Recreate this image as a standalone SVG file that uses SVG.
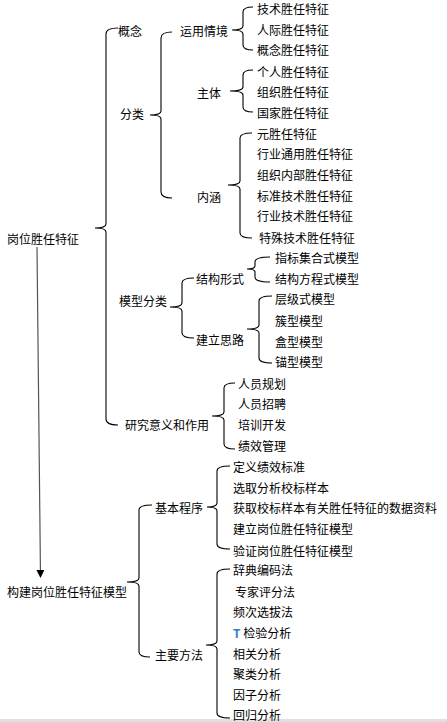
<svg xmlns="http://www.w3.org/2000/svg" width="447" height="722" viewBox="0 0 447 722">
<style>
text{font-family:"Noto Sans CJK SC","Noto Sans",sans-serif;font-size:12px;fill:#000;dominant-baseline:central}
.br{fill:none;stroke:#000;stroke-width:1.1}
</style>
<defs>
<marker id="ah" markerWidth="8" markerHeight="8" refX="7" refY="4" orient="auto" markerUnits="userSpaceOnUse">
<path d="M0,0 L8,4 L0,8 Z" fill="#000"/>
</marker>
</defs>
<rect width="447" height="722" fill="#fff"/>
<rect x="0" y="719" width="447" height="3" fill="#e0e0e0"/>
<g id="connectors">
<line x1="37" y1="247" x2="40.5" y2="577" stroke="#555" stroke-width="1.2" marker-end="url(#ah)"/>
<path class="br" d="M118,28 Q106,28 106,34 L106,224 Q106,228 95,228 Q106,228 106,232 L106,419 Q106,425 118,425"/>
<path class="br" d="M172,32 Q161,32 161,38 L161,111 Q161,115 150,115 Q161,115 161,119 L161,192 Q161,198 172,198"/>
<path class="br" d="M253,7 Q243,7 243,12 L243,26 Q243,30 232,30 Q243,30 243,34 L243,45 Q243,50 253,50"/>
<path class="br" d="M253,70 Q243,70 243,75 L243,87 Q243,91 230,91 Q243,91 243,95 L243,107 Q243,112 253,112"/>
<path class="br" d="M252,133 Q240,133 240,138 L240,181 Q240,185 228,185 Q240,185 240,189 L240,233 Q240,238 252,238"/>
<path class="br" d="M194,278 Q182,278 182,283 L182,303 Q182,307 170,307 Q182,307 182,311 L182,333 Q182,338 194,338"/>
<path class="br" d="M270,257 Q255,257 255,262 L255,266 Q255,269 247,269 Q255,269 255,272 L255,277 Q255,282 270,282"/>
<path class="br" d="M272,296 Q259,296 259,301 L259,325 Q259,329 247,329 Q259,329 259,333 L259,358 Q259,363 272,363"/>
<path class="br" d="M235,383 Q224,383 224,388 L224,412 Q224,416 212,416 Q224,416 224,420 L224,444 Q224,449 235,449"/>
<path class="br" d="M152,505 Q139,505 139,510 L139,578 Q139,582 127,582 Q139,582 139,586 L139,652 Q139,657 150,657"/>
<path class="br" d="M230,466 Q217,466 217,471 L217,503 Q217,507 207,507 Q217,507 217,511 L217,544 Q217,549 230,549"/>
<path class="br" d="M230,569 Q217,569 217,574 L217,641 Q217,645 206,645 Q217,645 217,649 L217,713 Q217,718 230,718"/>
</g>
<g id="n-root1"><text x="7" y="238">岗位胜任特征</text></g>
<g id="n-gainian"><text x="118" y="30">概念</text></g>
<g id="n-fenlei"><text x="120" y="113">分类</text></g>
<g id="n-moxingfenlei"><text x="119" y="300">模型分类</text></g>
<g id="n-yanjiu"><text x="125" y="424">研究意义和作用</text></g>
<g id="n-yunyong"><text x="180" y="30">运用情境</text></g>
<g id="n-zhuti"><text x="197" y="92">主体</text></g>
<g id="n-neihan"><text x="197" y="196">内涵</text></g>
<g id="n-yy1"><text x="257" y="8">技术胜任特征</text></g>
<g id="n-yy2"><text x="257" y="29">人际胜任特征</text></g>
<g id="n-yy3"><text x="257" y="49">概念胜任特征</text></g>
<g id="n-zt1"><text x="257" y="71">个人胜任特征</text></g>
<g id="n-zt2"><text x="257" y="91">组织胜任特征</text></g>
<g id="n-zt3"><text x="257" y="112">国家胜任特征</text></g>
<g id="n-nh1"><text x="257" y="133">元胜任特征</text></g>
<g id="n-nh2"><text x="257" y="153">行业通用胜任特征</text></g>
<g id="n-nh3"><text x="257" y="174">组织内部胜任特征</text></g>
<g id="n-nh4"><text x="257" y="195">标准技术胜任特征</text></g>
<g id="n-nh5"><text x="257" y="215">行业技术胜任特征</text></g>
<g id="n-nh6"><text x="259" y="237">特殊技术胜任特征</text></g>
<g id="n-jiegou"><text x="196" y="278">结构形式</text></g>
<g id="n-jianli"><text x="196" y="339">建立思路</text></g>
<g id="n-jg1"><text x="275" y="257">指标集合式模型</text></g>
<g id="n-jg2"><text x="275" y="278">结构方程式模型</text></g>
<g id="n-jl1"><text x="275" y="298">层级式模型</text></g>
<g id="n-jl2"><text x="275" y="320">簇型模型</text></g>
<g id="n-jl3"><text x="275" y="341">盒型模型</text></g>
<g id="n-jl4"><text x="275" y="361">锚型模型</text></g>
<g id="n-yj1"><text x="238" y="383">人员规划</text></g>
<g id="n-yj2"><text x="238" y="403">人员招聘</text></g>
<g id="n-yj3"><text x="238" y="424">培训开发</text></g>
<g id="n-yj4"><text x="238" y="445">绩效管理</text></g>
<g id="n-root2"><text x="7" y="591">构建岗位胜任特征模型</text></g>
<g id="n-jiben"><text x="155" y="507">基本程序</text></g>
<g id="n-zhuyao"><text x="155" y="654">主要方法</text></g>
<g id="n-jb1"><text x="233" y="466">定义绩效标准</text></g>
<g id="n-jb2"><text x="233" y="487">选取分析校标样本</text></g>
<g id="n-jb3"><text x="233" y="507">获取校标样本有关胜任特征的数据资料</text></g>
<g id="n-jb4"><text x="233" y="528">建立岗位胜任特征模型</text></g>
<g id="n-jb5"><text x="233" y="550">验证岗位胜任特征模型</text></g>
<g id="n-ff1"><text x="233" y="569">辞典编码法</text></g>
<g id="n-ff2"><text x="235" y="591">专家评分法</text></g>
<g id="n-ff3"><text x="233" y="611">频次选拔法</text></g>
<g id="n-ff4"><text x="233" y="632"><tspan fill="#2b7cd3" font-weight="bold">T</tspan> 检验分析</text></g>
<g id="n-ff5"><text x="233" y="653">相关分析</text></g>
<g id="n-ff6"><text x="233" y="673">聚类分析</text></g>
<g id="n-ff7"><text x="233" y="694">因子分析</text></g>
<g id="n-ff8"><text x="233" y="714">回归分析</text></g>
</svg>
